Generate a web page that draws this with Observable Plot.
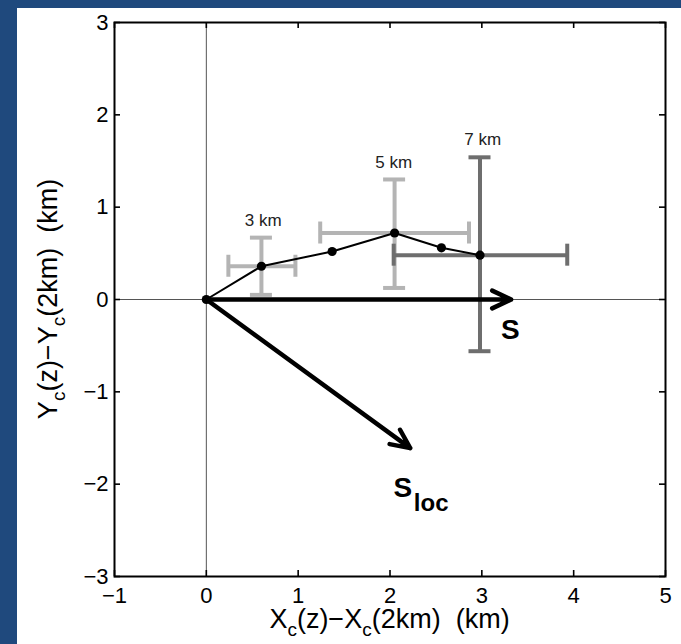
<!DOCTYPE html>
<html>
<head>
<meta charset="utf-8">
<script src="https://cdn.jsdelivr.net/npm/d3@7"></script>
<script src="https://cdn.jsdelivr.net/npm/@observablehq/plot@0.6"></script>
<style>
  html, body { margin: 0; padding: 0; background: #1F497D; width: 681px; height: 644px; overflow: hidden; }
  #chart { position: absolute; left: 17px; top: 8px; width: 664px; height: 636px; background: white; }
</style>
</head>
<body>
<div id="chart"></div>
<script>
// ---- data ----
const xTicks = [-1, 0, 1, 2, 3, 4, 5];
const yTicks = [-3, -2, -1, 0, 1, 2, 3];

// centre displacement profile
const profileX = [0, 0.6, 1.37, 2.05, 2.56, 2.98];
const profileY = [0, 0.36, 0.52, 0.72, 0.56, 0.48];

// error bars at 3, 5, 7 km
const barLabel = ["3 km", "5 km", "7 km"];
const barX    = [0.6, 2.05, 2.98];
const barY    = [0.36, 0.72, 0.48];
const barXLo  = [0.24, 1.24, 2.04];
const barXHi  = [0.97, 2.86, 3.93];
const barYLo  = [0.05, 0.125, -0.56];
const barYHi  = [0.67, 1.30, 1.54];
const barShade = ["light", "light", "dark"];
const labelX  = [0.62, 2.04, 3.01];
const labelY  = [0.86, 1.48, 1.73];

// shear vectors
const vecName = ["S", "Sloc"];
const vecX = [3.32, 2.22];
const vecY = [0, -1.61];
const vecLabelX = [3.31, 2.14];
const vecLabelY = [-0.33, -2.04];

// ---- build tables ----
const profile = profileX.map((x, i) => ({x, y: profileY[i]}));
const bars = barLabel.map((label, i) => ({
  label, x: barX[i], y: barY[i], xlo: barXLo[i], xhi: barXHi[i],
  ylo: barYLo[i], yhi: barYHi[i], shade: barShade[i], lx: labelX[i], ly: labelY[i]
}));
const vecs = vecName.map((name, i) => ({name, x0: 0, y0: 0, x: vecX[i], y: vecY[i], lx: vecLabelX[i], ly: vecLabelY[i]}));

const W = 664, H = 636, mL = 97, mR = 16, mT = 14, mB = 68;
const innerW = W - mL - mR, innerH = H - mT - mB;
const LIGHT = "#b4b4b4", DARK = "#6e6e6e";
const CAP = 11, BW = 4;
const fmt = d => (d < 0 ? "\u2212" + Math.abs(d) : String(d));

function barMarks(data, color) {
  return [
    Plot.ruleY(data, {y: "y", x1: "xlo", x2: "xhi", stroke: color, strokeWidth: BW}),
    Plot.ruleX(data, {x: "x", y1: "ylo", y2: "yhi", stroke: color, strokeWidth: BW}),
    Plot.ruleY(data, {y: "yhi", x1: "x", x2: "x", insetLeft: -CAP, insetRight: -CAP, stroke: color, strokeWidth: BW}),
    Plot.ruleY(data, {y: "ylo", x1: "x", x2: "x", insetLeft: -CAP, insetRight: -CAP, stroke: color, strokeWidth: BW}),
    Plot.ruleX(data, {x: "xlo", y1: "y", y2: "y", insetTop: -CAP, insetBottom: -CAP, stroke: color, strokeWidth: BW}),
    Plot.ruleX(data, {x: "xhi", y1: "y", y2: "y", insetTop: -CAP, insetBottom: -CAP, stroke: color, strokeWidth: BW})
  ];
}

const plot = Plot.plot({
  width: W, height: H,
  marginLeft: mL, marginRight: mR, marginTop: mT, marginBottom: mB,
  x: {domain: [-1, 5]},
  y: {domain: [-3, 3]},
  style: {fontFamily: "'Liberation Sans', Arial, Helvetica, sans-serif", background: "white", color: "black", overflow: "visible"},
  marks: [
    Plot.ruleX([0], {stroke: "#555", strokeWidth: 1}),
    Plot.ruleY([0], {stroke: "#555", strokeWidth: 1}),
    ...barMarks(bars.filter(d => d.shade === "light"), LIGHT),
    ...barMarks(bars.filter(d => d.shade === "dark"), DARK),
    Plot.line(profile, {x: "x", y: "y", stroke: "black", strokeWidth: 2}),
    Plot.dot(profile, {x: "x", y: "y", r: 4.6, fill: "black", stroke: "none"}),
    Plot.arrow(vecs, {x1: "x0", y1: "y0", x2: "x", y2: "y", stroke: "black", strokeWidth: 4.5, headLength: 7, headAngle: 50}),
    Plot.text(bars, {x: "lx", y: "ly", text: "label", fontSize: 17, fill: "#222"}),
    Plot.text(vecs, {x: "lx", y: "ly", text: d => "S", fontSize: 28, fontWeight: "bold", fill: "black"}),
    Plot.text(vecs.filter(d => d.name === "Sloc"), {x: "lx", y: "ly", text: d => "loc", fontSize: 24, fontWeight: "bold", fill: "black", textAnchor: "start", dx: 11, dy: 15}),
    // inward ticks on all four sides
    Plot.tickX(xTicks, {x: d => d, insetTop: innerH - 6, stroke: "black", strokeWidth: 1.6}),
    Plot.tickX(xTicks, {x: d => d, insetBottom: innerH - 6, stroke: "black", strokeWidth: 1.6}),
    Plot.tickY(yTicks, {y: d => d, insetRight: innerW - 6, stroke: "black", strokeWidth: 1.6}),
    Plot.tickY(yTicks, {y: d => d, insetLeft: innerW - 6, stroke: "black", strokeWidth: 1.6}),
    Plot.axisX({ticks: xTicks, tickFormat: fmt, tickSize: 0, tickPadding: 11, fontSize: 22, label: null}),
    Plot.axisY({ticks: yTicks, tickFormat: fmt, tickSize: 0, tickPadding: 6, fontSize: 22, label: null}),
    Plot.frame({stroke: "black", strokeWidth: 2})
  ]
});

document.getElementById("chart").appendChild(plot);

// axis titles with subscripts
function subText(sel, parts, size, subSize) {
  const shift = Math.round(size * 0.3);
  let down = false;
  parts.forEach(([t, sub]) => {
    const ts = sel.append("tspan").text(t);
    if (sub && !down) { ts.attr("dy", shift).attr("font-size", subSize); down = true; }
    else if (sub) { ts.attr("font-size", subSize); }
    else if (!sub && down) { ts.attr("dy", -shift); down = false; }
  });
}
const svg = d3.select(plot);
const titleParts = (L) => [[L, 0], ["c", 1], ["(z)\u2212" + L, 0], ["c", 1], ["(2km)  (km)", 0]];
const xt = svg.append("text")
  .attr("x", mL + innerW / 2).attr("y", 620)
  .attr("text-anchor", "middle").attr("font-size", 27)
  .style("white-space", "pre").attr("fill", "black");
subText(xt, titleParts("X"), 27, 19);
const yt = svg.append("text")
  .attr("transform", `translate(${40},${mT + innerH / 2}) rotate(-90)`)
  .attr("text-anchor", "middle").attr("font-size", 27)
  .style("white-space", "pre").attr("fill", "black");
subText(yt, titleParts("Y"), 27, 19);
</script>
</body>
</html>
